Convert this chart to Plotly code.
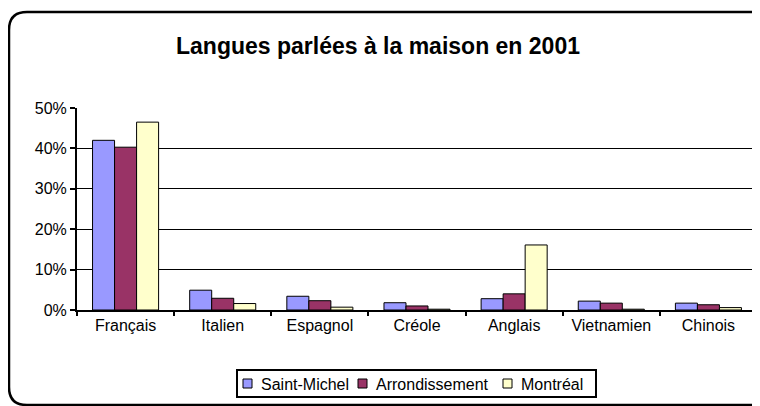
import plotly.graph_objects as go

langues = ['Français', 'Italien', 'Espagnol', 'Créole', 'Anglais', 'Vietnamien', 'Chinois']
saint_michel = [0.420, 0.049, 0.034, 0.018, 0.028, 0.022, 0.017]
arrondissement = [0.403, 0.029, 0.023, 0.010, 0.040, 0.017, 0.013]
montreal = [0.465, 0.016, 0.007, 0.002, 0.161, 0.002, 0.006]

series = [
    ('Saint-Michel', saint_michel, '#9999FF'),
    ('Arrondissement', arrondissement, '#993366'),
    ('Montréal', montreal, '#FFFFCC'),
]

# page body has an 8px margin, so work in figure coords = screen - 8
OFF = 8
W, H = 760 - OFF, 406 - OFF
L, R, T, B = 77 - OFF, 757 - OFF, 108 - OFF, 310 - OFF


def px(x):
    return (x - OFF - L) / (R - L)


def py(y):
    return (B - (y - OFF)) / (B - T)


fig = go.Figure()
for name, vals, color in series:
    fig.add_trace(go.Bar(
        x=langues, y=vals, name=name,
        marker={'color': color, 'line': {'color': 'black', 'width': 1}},
    ))

# rounded outer frame (Excel chart area), screen coords; right side runs off the page
x0, y0, x1, y1, r = 9, 12, 774, 405, 18
frame = (f'M {px(x0)} {py(y1 - r)} L {px(x0)} {py(y0 + r)} '
         f'Q {px(x0)} {py(y0)} {px(x0 + r)} {py(y0)} '
         f'L {px(x1 - r)} {py(y0)} Q {px(x1)} {py(y0)} {px(x1)} {py(y0 + r)} '
         f'L {px(x1)} {py(y1 - r)} Q {px(x1)} {py(y1)} {px(x1 - r)} {py(y1)} '
         f'L {px(x0 + r)} {py(y1)} Q {px(x0)} {py(y1)} {px(x0)} {py(y1 - r)} Z')

shapes = [
    {'type': 'line', 'xref': 'paper', 'yref': 'paper', 'x0': 1, 'x1': 1,
     'y0': 0, 'y1': 1, 'line': {'color': '#999999', 'width': 1}},
    {'type': 'path', 'xref': 'paper', 'yref': 'paper', 'path': frame,
     'line': {'color': 'black', 'width': 2.5}, 'layer': 'above'},
    # legend box
    {'type': 'rect', 'xref': 'paper', 'yref': 'paper',
     'x0': px(237), 'x1': px(596), 'y0': py(370), 'y1': py(397),
     'line': {'color': 'black', 'width': 2}, 'fillcolor': 'white'},
]
annotations = []
legend_pos = [(243, 259), (358, 374), (503, 519)]
for (sx, tx), (name, _, color) in zip(legend_pos, series):
    shapes.append({'type': 'rect', 'xref': 'paper', 'yref': 'paper',
                   'x0': px(sx), 'x1': px(sx + 9), 'y0': py(379), 'y1': py(388),
                   'line': {'color': 'black', 'width': 1}, 'fillcolor': color})
    annotations.append({'xref': 'paper', 'yref': 'paper', 'x': px(tx), 'y': py(384),
                        'xanchor': 'left', 'yanchor': 'middle', 'showarrow': False,
                        'text': name, 'font': {'size': 16}})

fig.update_layout(
    width=W, height=H,
    margin={'l': L, 'r': W - R, 't': T, 'b': H - B},
    paper_bgcolor='white', plot_bgcolor='white',
    font={'family': 'Arial, Liberation Sans, sans-serif', 'size': 16, 'color': 'black'},
    title={'text': '<b>Langues parlées à la maison en 2001</b>',
           'x': (378 - OFF) / W, 'xanchor': 'center',
           'y': 1 - (46 - OFF) / H, 'yanchor': 'middle',
           'font': {'size': 23}},
    barmode='group', bargap=0.32, bargroupgap=0,
    showlegend=False,
    xaxis={'showline': True, 'linecolor': 'black', 'linewidth': 2,
           'ticks': 'outside', 'tickson': 'boundaries', 'ticklen': 4,
           'tickcolor': 'black', 'tickwidth': 2, 'showgrid': False},
    yaxis={'range': [0, 0.5], 'dtick': 0.1, 'tickformat': '.0%',
           'showline': True, 'linecolor': 'black', 'linewidth': 2,
           'ticks': 'outside', 'ticklen': 5, 'tickcolor': 'black', 'tickwidth': 2,
           'showgrid': True, 'gridcolor': 'black', 'gridwidth': 1,
           'zeroline': False},
    shapes=shapes,
    annotations=annotations,
)

fig.write_html('out.html')
